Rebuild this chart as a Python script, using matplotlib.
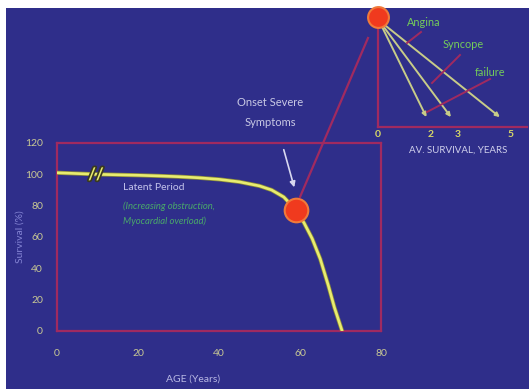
import matplotlib
matplotlib.use("Agg")
import matplotlib.pyplot as plt
import matplotlib.patheffects as pe
from matplotlib.lines import Line2D

plt.rcParams["font.family"] = ["Lato", "DejaVu Sans"]

# ---------------- data ----------------
age = [0, 5, 10, 15, 20, 25, 30, 35, 40, 45, 50, 53, 56, 59, 61, 63, 65, 67, 68.5, 70.4]
survival = [101, 100.5, 100, 99.7, 99.4, 99.0, 98.5, 97.8, 96.8, 95.2, 92.6, 90.0, 85.5, 77.2, 69, 59, 46, 29, 15, 0]
onset_age = 59
onset_surv = 77.2
x_ticks = [0, 20, 40, 60, 80]
y_ticks = [0, 20, 40, 60, 80, 100, 120]

symptoms = ["Angina", "Syncope", "failure"]
av_survival = [2, 3, 5]
inset_ticks = [0, 2, 3, 5]

W, H = 529, 389
BG = "#2f2e8a"
RED = "#a02a60"
YEL = "#e8ec70"
TICK = "#c8c894"

fig = plt.figure(figsize=(W / 100, H / 100), dpi=100)
fig.patch.set_facecolor("white")
bg = fig.add_axes([6 / W, 0, 1 - 6 / W, 1 - 8 / H])
bg.set_facecolor(BG)
bg.set_xticks([]); bg.set_yticks([])
for s in bg.spines.values():
    s.set_visible(False)

def fx(px):
    return px / W

def fy(py):
    return 1 - py / H

# ---------------- main axes ----------------
ax = fig.add_axes([fx(57), fy(331), (381 - 57) / W, (331 - 143) / H])
ax.set_facecolor("none")
ax.set_xlim(0, 80)
ax.set_ylim(0, 120)
for s in ax.spines.values():
    s.set_color(RED)
    s.set_linewidth(1.6)
ax.set_xticks(x_ticks)
ax.set_yticks(y_ticks)
ax.tick_params(axis="x", length=0, pad=13, labelsize=7.5, labelcolor=TICK)
ax.tick_params(axis="y", length=0, pad=10, labelsize=7.5, labelcolor=TICK)

ax.plot(age, survival, color=YEL, lw=1.9, solid_capstyle="round", zorder=3,
        path_effects=[pe.Stroke(linewidth=3.0, foreground="#8a8a3a"), pe.Normal()])
# break mark
ax.text(9.6, 99.8, "//", color=YEL, fontsize=12, fontweight="bold", ha="center", va="center",
        zorder=4, path_effects=[pe.Stroke(linewidth=2.5, foreground="#3a3a20"), pe.Normal()])
ax.plot([onset_age], [onset_surv], "o", ms=17, color="#f03a1e", mec="#f07a3a", mew=1.5,
        zorder=5, clip_on=False)

ax.text(16.2, 91.5, "Latent Period", color="#c4c4ec", fontsize=7.5, ha="left", va="center")
ax.text(16.2, 79.5, "(Increasing obstruction,", color="#4aa86a", fontsize=6.8,
        style="italic", ha="left", va="center")
ax.text(16.2, 70, "Myocardial overload)", color="#4aa86a", fontsize=6.8,
        style="italic", ha="left", va="center")

fig.text(fx(20), fy(237), "Survival (%)", rotation=90, color="#8484d4", fontsize=7.5,
         ha="center", va="center")
fig.text(fx(193), fy(379), "AGE (Years)", color="#b8b8e4", fontsize=7.5,
         ha="center", va="center")

fig.text(fx(270), fy(103), "Onset Severe", color="#c8c8e4", fontsize=8, ha="center", va="center")
fig.text(fx(270), fy(122), "Symptoms", color="#c8c8e4", fontsize=8, ha="center", va="center")
fig.add_artist(matplotlib.patches.FancyArrowPatch(
    (fx(283), fy(147)), (fx(295), fy(190)), transform=fig.transFigure,
    arrowstyle="-|>", mutation_scale=8, color="#d8d8f0", lw=1.2))

fig.add_artist(Line2D([fx(300), fx(368)], [fy(197), fy(38)], color=RED, lw=1.6))

# ---------------- inset ----------------
x0, x1 = 377.5, 527
y0, y1 = 127, 17
unit = 26.6
ix = fig.add_axes([fx(x0), fy(y0), (x1 - x0) / W, (y0 - y1) / H])
ix.set_facecolor("none")
ix.set_xlim(0, (x1 - x0) / unit)
ix.set_ylim(0, 1)
for k in ["top", "right"]:
    ix.spines[k].set_visible(False)
for k in ["left", "bottom"]:
    ix.spines[k].set_color(RED)
    ix.spines[k].set_linewidth(1.6)
ix.set_yticks([])
ix.set_xticks(inset_ticks)
ix.tick_params(axis="x", length=0, pad=2, labelsize=7.5, labelcolor="#d8d866")
for lbl in ix.get_xticklabels():
    lbl.set_fontweight("bold")
ix.plot([0], [1], "o", ms=15, color="#f03a1e", mec="#f07a3a", mew=1.5, clip_on=False, zorder=5)
for v in av_survival:
    ix.annotate("", xy=(v - 0.08 * v, 0.09), xytext=(0.05, 0.97),
                arrowprops=dict(arrowstyle="-|>", color="#c8cc88", lw=1.4, mutation_scale=6,
                                shrinkA=0, shrinkB=0), annotation_clip=False)

label_pos = [(424, 22), (463, 45), (490, 72)]
pointer = [((421, 32), (407, 43)), ((460, 55), (432, 83)), ((490, 79), (427, 112))]
for name, (lx, ly), ((ax0, ay0), (ax1, ay1)) in zip(symptoms, label_pos, pointer):
    fig.text(fx(lx), fy(ly), name, color="#74cc5a", fontsize=7.8, ha="center", va="center")
    fig.add_artist(Line2D([fx(ax0), fx(ax1)], [fy(ay0), fy(ay1)], color=RED, lw=1.4))

fig.text(fx(458), fy(150), "AV. SURVIVAL, YEARS", color="#d0d0ec", fontsize=7,
         ha="center", va="center")

fig.savefig("out.png", dpi=100, facecolor=fig.get_facecolor())
